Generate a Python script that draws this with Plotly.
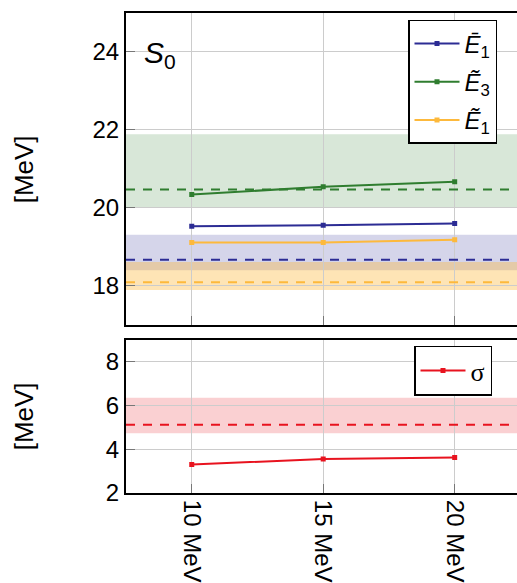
import plotly.graph_objects as go

# Beam energies (MeV)
energies = [10, 15, 20]
energy_labels = ["10 MeV", "15 MeV", "20 MeV"]

# Upper panel: centroid energies
e1_bar = [19.53, 19.55, 19.60]
e3_tilde = [20.34, 20.54, 20.67]
e1_tilde = [19.11, 19.11, 19.18]

# Reference values (dashed) with their bands [low, high]
e1_bar_ref = 18.67
e1_bar_band = [18.40, 19.31]
e3_tilde_ref = 20.47
e3_tilde_band = [20.00, 21.89]
e1_tilde_ref = 18.09
e1_tilde_band = [17.89, 18.61]

# Lower panel: width
sigma = [3.30, 3.55, 3.62]
sigma_ref = 5.11
sigma_band = [4.73, 6.35]

BLUE = "#2c2c94"
GREEN = "#2f7d2f"
ORANGE = "#fdb93c"
RED = "#e8131f"
FONT = "Liberation Sans"

W, H = 517, 583
ML, MR, MT, MB = 126, 0, 13, 88
ph = H - MT - MB


def ypaper(px):
    return (H - MB - px) / ph


fig = go.Figure()

series = [
    ("<i>Ē</i><sub>1</sub>", e1_bar, BLUE),
    ("<i>Ẽ</i><sub>3</sub>", e3_tilde, GREEN),
    ("<i>Ẽ</i><sub>1</sub>", e1_tilde, ORANGE),
]
for i, (name, vals, col) in enumerate(series):
    fig.add_trace(go.Scatter(
        x=energies, y=vals, name=name, mode="lines+markers",
        line=dict(color=col, width=2),
        marker=dict(symbol="square", size=5, color=col),
        xaxis="x", yaxis="y", legend="legend", legendgroup=f"g{i}",
    ))

fig.add_trace(go.Scatter(
    x=energies, y=sigma, name="σ", mode="lines+markers",
    line=dict(color=RED, width=2),
    marker=dict(symbol="square", size=5, color=RED),
    xaxis="x2", yaxis="y2", legend="legend2",
))

shapes = []
bands = [
    (e3_tilde_band, "rgba(47,125,47,0.19)", "y"),
    (e1_bar_band, "rgba(44,44,148,0.20)", "y"),
    (e1_tilde_band, "rgba(253,185,60,0.38)", "y"),
    (sigma_band, "rgba(232,19,31,0.20)", "y2"),
]
for (lo, hi), fill, yr in bands:
    xr = "x domain" if yr == "y" else "x2 domain"
    shapes.append(dict(type="rect", xref=xr, yref=yr, x0=0, x1=1,
                       y0=lo, y1=hi, fillcolor=fill, line=dict(width=0),
                       layer="below"))
refs = [
    (e3_tilde_ref, GREEN, "y"),
    (e1_bar_ref, BLUE, "y"),
    (e1_tilde_ref, ORANGE, "y"),
    (sigma_ref, RED, "y2"),
]
for val, col, yr in refs:
    xr = "x domain" if yr == "y" else "x2 domain"
    shapes.append(dict(type="line", xref=xr, yref=yr, x0=0, x1=1,
                       y0=val, y1=val, layer="above",
                       line=dict(color=col, width=2, dash="9px,8px")))

top_dom = [ypaper(326), 1.0]
bot_dom = [0.0, ypaper(341)]

axis_common = dict(
    showgrid=True, gridcolor="#cccccc", gridwidth=1,
    showline=True, linecolor="black", linewidth=2,
    ticks="inside", ticklen=9, tickcolor="#777777", tickwidth=1,
    zeroline=False,
    tickfont=dict(family=FONT, size=24, color="black"),
)

fig.update_layout(
    width=W, height=H,
    margin=dict(l=ML, r=MR, t=MT, b=MB),
    paper_bgcolor="white", plot_bgcolor="white",
    showlegend=True,
    xaxis=dict(axis_common, domain=[0, 1], range=[7.5, 22.37],
               anchor="y", mirror=True, tickvals=energies,
               showticklabels=False),
    yaxis=dict(axis_common, domain=top_dom, range=[17, 25], anchor="x",
               tickvals=[18, 20, 22, 24]),
    xaxis2=dict(axis_common, domain=[0, 1], range=[7.5, 22.37],
                anchor="y2", mirror=True, tickvals=energies,
                ticktext=energy_labels, tickangle=90),
    yaxis2=dict(axis_common, domain=bot_dom, range=[2, 9], anchor="x2",
                tickvals=[2, 4, 6, 8]),
    legend=dict(x=(408 - ML) / (W - ML), y=ypaper(20), xanchor="left",
                yanchor="top", bgcolor="white", bordercolor="black",
                borderwidth=1.5, font=dict(family=FONT, size=24,
                                           color="black"),
                tracegroupgap=4, itemwidth=45),
    legend2=dict(x=(414 - ML) / (W - ML), y=ypaper(347), xanchor="left",
                 yanchor="top", bgcolor="white", bordercolor="black",
                 borderwidth=1.5, itemwidth=45,
                 font=dict(family="Liberation Serif", size=26,
                           color="black")),
    shapes=shapes,
    annotations=[
        dict(text="<i>S</i><sub>0</sub>", xref="paper", yref="paper",
             x=(142 - ML) / (W - ML), y=ypaper(34), xanchor="left",
             yanchor="top", showarrow=False,
             font=dict(family=FONT, size=30, color="black")),
        dict(text="[MeV]", xref="paper", yref="paper",
             x=-(ML - 24) / (W - ML), y=ypaper(170), textangle=-90,
             showarrow=False, xanchor="center", yanchor="middle",
             font=dict(family=FONT, size=26, color="black")),
        dict(text="[MeV]", xref="paper", yref="paper",
             x=-(ML - 24) / (W - ML), y=ypaper(418), textangle=-90,
             showarrow=False, xanchor="center", yanchor="middle",
             font=dict(family=FONT, size=26, color="black")),
    ],
)

fig.write_html("out.html")
